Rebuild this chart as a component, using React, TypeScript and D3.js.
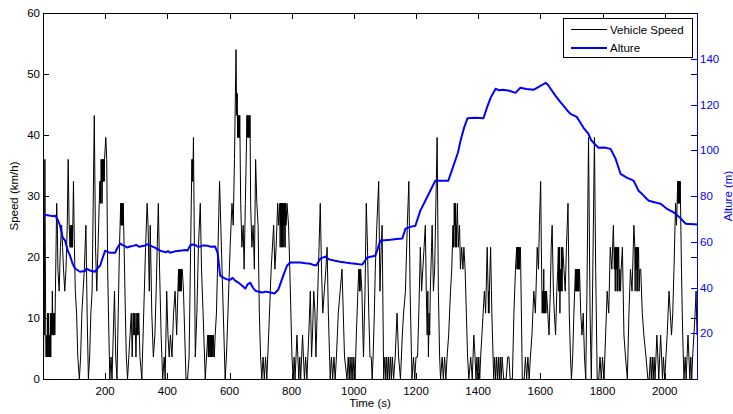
import React from 'react';
import * as d3 from 'd3';

// Vehicle speed (km/h): [time s, speed]
const speedPoints: [number, number][] = [
  [0,3.6],[1,7.2],[2,3.6],[3,14.4],[4,7.2],[6,36],[8,14.4],[9,7.2],[10,3.6],[11,7.2],[12,3.6],[13,7.2],[14,3.6],[15,10.8],[16,3.6],[17,7.2],[18,10.8],[19,3.6],[20,7.2],[21,3.6],[22,7.2],[23,3.6],[24,10.8],[25,3.6],[26,10.8],[27,7.2],[28,10.8],[29,7.2],[30,14.4],[31,10.8],[32,7.2],[33,10.8],[34,7.2],[35,10.8],[36,7.2],[37,10.8],[38,7.2],[40,14.4],[44,28.8],[46,25.2],[48,18],[52,14.4],[56,21.6],[60,25.2],[63,21.6],[66,18],[70,14.4],[74,18],[78,25.2],[81,36],[84,25.2],[87,21.6],[88,25.2],[89,21.6],[90,25.2],[91,21.6],[92,25.2],[93,21.6],[94,25.2],[95,21.6],[98,32.4],[101,21.6],[104,14.4],[108,10.8],[112,3.6],[117,0],
  [121,3.6],[125,10.8],[129,14.4],[133,18],[138,25.2],[142,10.8],[146,0],[150,3.6],[154,10.8],[158,14.4],[165,43.2],[169,21.6],[173,14.4],[177,21.6],[181,28.8],[183,32.4],[184,28.8],[185,32.4],[186,28.8],[187,36],[188,32.4],[189,36],[190,28.8],[191,32.4],[192,36],[193,32.4],[194,36],[195,32.4],[196,36],[197,32.4],[198,36],[202,39.6],[205,36],[208,18],[212,7.2],[215,0],
  [219,3.6],[222,0],[226,7.2],[230,14.4],[234,3.6],[238,0],[242,10.8],[246,21.6],[250,28.8],[251,25.2],[252,28.8],[253,25.2],[254,28.8],[255,25.2],[256,28.8],[257,25.2],[258,28.8],[261,21.6],[265,10.8],[268,3.6],[272,0],[276,3.6],[280,7.2],[284,10.8],[287,3.6],[290,10.8],[292,7.2],[293,10.8],[294,7.2],[296,10.8],[299,3.6],[302,10.8],[304,7.2],[305,10.8],[306,7.2],[308,10.8],[312,3.6],[318,0],[324,10.8],[330,21.6],[335,28.8],[338,25.2],[342,14.4],
  [345,25.2],[350,10.8],[355,3.6],[360,7.2],[364,14.4],[371,28.8],[375,18],[380,7.2],[385,0],[390,3.6],[393,0],[398,14.4],[402,7.2],[406,3.6],[410,7.2],[415,3.6],[420,10.8],[425,14.4],[430,7.2],[434,14.4],[436,18],[437,14.4],[438,18],[439,14.4],[440,18],[441,14.4],[442,18],[443,14.4],[444,18],[445,14.4],[446,18],[448,18],[452,14.4],[456,7.2],[460,0],
  [465,0],[470,3.6],[474,18],[478,32.4],[479,36],[480,32.4],[481,36],[482,32.4],[484,39.6],[487,21.6],[490,3.6],[495,10.8],[500,21.6],[506,28.8],[510,18],[515,10.8],[522,0],[526,3.6],[530,7.2],[532,3.6],[533,7.2],[534,3.6],[536,7.2],[538,3.6],[539,7.2],[541,3.6],[542,7.2],[544,3.6],[545,7.2],[547,3.6],[548,7.2],[551,3.6],[554,7.2],[558,10.8],[563,21.6],[568,32.4],[572,25.2],[576,18],[582,7.2],[586,0],[590,3.6],[595,10.8],[602,21.6],[608,28.8],[612,25.2],[616,36],[621,54],[623,43.2],[625,46.8],[626,39.6],[627,43.2],[628,39.6],[629,43.2],[630,39.6],[631,43.2],[632,39.6],[633,43.2],[636,28.8],[640,21.6],[644,25.2],[647,18],[651,28.8],[655,39.6],[656,43.2],[657,39.6],[658,43.2],[659,39.6],[660,43.2],[661,39.6],[662,43.2],[663,39.6],[664,43.2],[665,39.6],[666,43.2],[668,28.8],[672,21.6],[676,25.2],[680,18],[684,36],[688,28.8],[692,25.2],[696,10.8],[700,3.6],
  [704,0],[708,3.6],[712,0],[716,3.6],[720,0],[726,7.2],[734,18],[742,25.2],[746,18],[750,21.6],[755,28.8],[758,25.2],[762,28.8],[763,21.6],[764,28.8],[765,25.2],[766,28.8],[767,21.6],[768,28.8],[769,25.2],[770,28.8],[771,21.6],[772,28.8],[773,25.2],[774,28.8],[775,21.6],[776,28.8],[777,25.2],[778,28.8],[779,21.6],[780,28.8],[782,25.2],[785,28.8],[790,25.2],[794,18],[801,3.6],
  [805,0],[808,3.6],[811,0],[814,3.6],[817,7.2],[820,3.6],[823,0],[826,3.6],[829,0],[832,3.6],[835,7.2],[838,3.6],[841,0],[845,3.6],[849,0],[855,7.2],[860,14.4],[864,3.6],[867,7.2],[871,14.4],[875,10.8],[878,3.6],[884,14.4],[888,21.6],[892,28.8],[896,18],[900,10.8],[905,14.4],[910,18],[914,21.6],[918,10.8],[924,0],[928,3.6],[932,0],[936,3.6],[940,0],[944,3.6],[950,10.8],[956,14.4],[962,18],[966,10.8],[970,3.6],[978,0],[982,3.6],[985,0],[988,3.6],[991,0],[994,3.6],[997,0],[1000,3.6],[1004,0],[1008,7.2],[1013,14.4],[1016,18],[1018,14.4],[1019,18],[1020,14.4],[1022,18],[1026,14.4],[1031,3.6],[1036,14.4],[1040,28.8],[1044,21.6],[1048,10.8],[1052,3.6],
  [1056,3.6],[1059,0],[1062,3.6],[1066,10.8],[1069,18],[1074,25.2],[1080,32.4],[1084,14.4],[1088,21.6],[1091,25.2],[1096,0],[1100,3.6],[1103,0],[1106,3.6],[1109,0],[1112,3.6],[1115,0],[1118,3.6],[1121,0],[1124,3.6],[1128,0],[1133,3.6],[1139,10.8],[1144,3.6],[1150,0],[1156,7.2],[1160,10.8],[1166,14.4],[1172,25.2],[1177,32.4],[1181,14.4],[1187,0],[1192,3.6],[1196,0],[1200,3.6],
  [1205,3.6],[1209,10.8],[1214,21.6],[1218,14.4],[1222,18],[1226,21.6],[1230,25.2],[1233,14.4],[1236,7.2],[1238,14.4],[1240,3.6],[1242,10.8],[1244,7.2],[1246,14.4],[1250,21.6],[1252,25.2],[1256,14.4],[1260,18],[1264,28.8],[1268,39.6],[1272,14.4],[1276,3.6],[1279,0],[1284,3.6],[1288,0],[1292,3.6],[1296,0],[1300,3.6],
  [1305,7.2],[1311,14.4],[1315,18],[1319,25.2],[1320,21.6],[1321,25.2],[1322,21.6],[1323,28.8],[1324,25.2],[1325,28.8],[1326,25.2],[1327,28.8],[1328,21.6],[1329,25.2],[1330,21.6],[1331,25.2],[1333,28.8],[1336,21.6],[1340,25.2],[1343,18],[1347,21.6],[1351,18],[1354,21.6],[1358,18],[1362,10.8],[1366,3.6],[1370,0],[1376,3.6],[1381,0],[1386,7.2],[1390,3.6],[1393,0],[1396,3.6],[1399,0],[1402,3.6],[1405,0],[1408,3.6],
  [1412,7.2],[1416,10.8],[1420,14.4],[1424,10.8],[1429,21.6],[1432,14.4],[1433,10.8],[1434,14.4],[1435,10.8],[1436,14.4],[1440,21.6],[1444,10.8],[1450,0],[1453,3.6],[1456,0],[1459,3.6],[1462,0],[1465,3.6],[1468,0],[1471,3.6],[1474,0],[1477,3.6],[1482,0],[1490,0],[1495,3.6],[1499,3.6],[1503,0],[1510,0],[1515,10.8],[1520,18],[1524,21.6],[1525,18],[1526,21.6],[1527,18],[1528,21.6],[1529,18],[1530,21.6],[1531,18],[1532,21.6],[1533,18],[1534,21.6],[1536,21.6],[1540,7.2],[1542,0],[1548,0],[1552,3.6],[1556,0],[1560,3.6],
  [1564,0],[1568,3.6],[1573,7.2],[1579,14.4],[1584,10.8],[1590,21.6],[1594,18],[1597,25.2],[1601,32.4],[1604,18],[1606,10.8],[1607,14.4],[1608,10.8],[1609,14.4],[1610,10.8],[1611,18],[1612,10.8],[1613,14.4],[1614,10.8],[1615,14.4],[1616,10.8],[1617,14.4],[1618,10.8],[1620,14.4],[1624,10.8],[1628,7.2],[1632,14.4],[1635,21.6],[1638,25.2],[1642,14.4],[1645,10.8],[1649,7.2],[1653,14.4],[1656,18],[1658,21.6],[1659,14.4],[1660,21.6],[1661,14.4],[1662,21.6],[1663,10.8],[1664,18],[1665,14.4],[1666,18],[1667,14.4],[1668,21.6],[1670,14.4],[1672,21.6],[1676,18],[1680,14.4],[1684,21.6],[1689,28.8],[1693,10.8],[1697,3.6],[1700,0],
  [1704,3.6],[1708,10.8],[1713,18],[1714,14.4],[1715,18],[1716,14.4],[1717,18],[1718,14.4],[1719,18],[1720,14.4],[1721,18],[1722,14.4],[1723,18],[1724,14.4],[1726,18],[1730,10.8],[1734,7.2],[1738,10.8],[1742,3.6],[1746,0],[1750,14.4],[1755,39.6],[1760,10.8],[1764,0],[1768,14.4],[1774,39.6],[1778,18],[1783,0],[1788,0],[1792,3.6],[1796,0],[1800,3.6],
  [1805,0],[1810,7.2],[1815,14.4],[1820,10.8],[1825,21.6],[1830,18],[1835,25.2],[1838,18],[1840,21.6],[1841,14.4],[1842,21.6],[1843,18],[1844,21.6],[1845,18],[1846,21.6],[1847,14.4],[1848,21.6],[1849,14.4],[1850,18],[1852,21.6],[1854,14.4],[1856,18],[1858,14.4],[1860,18],[1864,21.6],[1869,7.2],[1874,3.6],[1880,0],[1885,10.8],[1890,18],[1895,14.4],[1901,25.2],[1904,21.6],[1905,14.4],[1906,21.6],[1907,18],[1908,21.6],[1909,18],[1910,21.6],[1911,14.4],[1912,21.6],[1913,14.4],[1914,18],[1916,21.6],[1918,14.4],[1920,18],[1923,18],[1928,10.8],[1933,7.2],[1940,3.6],[1946,0],[1950,0],
  [1954,3.6],[1957,0],[1960,3.6],[1963,0],[1966,3.6],[1969,0],[1972,3.6],[1975,7.2],[1978,3.6],[1981,0],[1984,3.6],[1987,7.2],[1990,3.6],[1993,0],[1996,3.6],[2000,0],[2004,3.6],[2008,7.2],[2014,14.4],[2018,10.8],[2022,7.2],[2026,10.8],[2030,18],[2035,28.8],[2038,25.2],[2042,32.4],[2043,28.8],[2044,32.4],[2045,28.8],[2046,32.4],[2047,28.8],[2048,32.4],[2049,28.8],[2050,32.4],[2054,18],[2058,7.2],[2062,0],[2066,3.6],[2069,0],[2072,3.6],[2075,7.2],[2078,3.6],[2081,0],[2084,3.6],[2087,0],[2090,3.6],[2094,7.2],[2098,10.8],[2101,14.4],[2104,7.2]
];

// Altitude (m): [time s, altitude]
const altPoints: [number, number][] = [
  [0,71.8],[15,71.6],[30,71.2],[39,71.4],[48,69.5],[55,67],[63,62],[71,60.5],[80,56],[87,53.9],[95,50.5],[103,48.3],[119,46.9],[135,47.2],[140,48.3],[143,48],[151,47.4],[167,46.9],[176,48.5],[184,49.6],[192,53],[200,56.1],[208,55.6],[216,55.2],[232,55.2],[240,57.5],[248,59.2],[255,58.6],[262,58.2],[270,57.5],[280,57.9],[290,58.2],[300,58.6],[310,57.8],[320,58.1],[330,58.4],[335,58.9],[345,58.3],[360,57.4],[377,56.1],[385,55.8],[395,55.4],[402,55.9],[409,55.2],[425,55.8],[441,56.1],[458,56.4],[465,56.1],[473,58.3],[480,58.8],[490,58.6],[498,57.8],[506,57.9],[515,58.4],[530,58.2],[540,57.8],[554,57.9],[562,55],[570,45.2],[578,44.5],[586,43.9],[600,43.2],[610,44.2],[618,43],[630,42],[641,40.8],[651,39.5],[659,41.5],[667,42.1],[675,40],[683,38.6],[695,38.1],[705,37.8],[718,38.2],[731,37.8],[745,37.4],[757,39.1],[773,45.2],[785,49.5],[795,50.9],[810,50.9],[828,50.9],[845,50.6],[860,50.4],[872,49.8],[879,49.6],[892,52.6],[908,53.5],[920,52.3],[940,51.7],[955,51.3],[973,50.9],[990,50.6],[1005,50.4],[1027,50],[1043,53.1],[1069,53.9],[1077,57],[1085,60.5],[1100,60.7],[1118,60.9],[1138,61.2],[1156,61.4],[1166,65.7],[1182,66.5],[1198,67],[1214,73.6],[1230,77.9],[1246,82.3],[1262,86.7],[1283,86.7],[1304,86.7],[1320,93],[1335,99],[1343,104],[1355,110],[1366,114],[1390,114.2],[1417,114],[1428,118.5],[1440,122.9],[1456,126.9],[1468,126.2],[1481,126.4],[1500,126],[1520,125.1],[1536,127.3],[1555,126.8],[1578,126.4],[1592,127.5],[1601,128.2],[1617,129.5],[1625,128.5],[1633,126.9],[1649,123.8],[1662,121.5],[1675,119.4],[1686,117.5],[1697,115.9],[1717,114.6],[1728,112.2],[1739,109.8],[1755,107.2],[1763,104.5],[1771,103.3],[1787,101.1],[1805,101.2],[1826,100.6],[1842,96.3],[1850,93],[1858,89.7],[1878,88],[1900,86.7],[1916,82.3],[1930,80.5],[1942,78.8],[1949,77.9],[1970,77.2],[1987,76.6],[2006,74.5],[2020,73.5],[2035,72.3],[2052,70.1],[2068,67.9],[2080,67.8],[2095,67.6],[2104,67.5]
];

const timeTicks = [200, 400, 600, 800, 1000, 1200, 1400, 1600, 1800, 2000];
const speedTicks = [0, 10, 20, 30, 40, 50, 60];
const altTicks = [20, 40, 60, 80, 100, 120, 140];

export default function App() {
  const W = 733, H = 414;
  const L = 43, R = 697, T = 13, B = 379;
  const x = d3.scaleLinear().domain([0, 2104]).range([L, R]);
  const yS = d3.scaleLinear().domain([0, 60]).range([B, T]);
  const yA = d3.scaleLinear().domain([0, 160]).range([B, T]);
  const speedLine = d3.line<[number, number]>().x(d => x(d[0])).y(d => yS(d[1]));
  const altLine = d3.line<[number, number]>().x(d => x(d[0])).y(d => yA(d[1]));
  const font = '"Liberation Sans", Arial, sans-serif';
  const fs = 11.5;
  const tl = 6;
  const blue = '#0000ff';

  return (
    <div style={{ position: 'absolute', left: 0, top: 0 }}>
      <svg width={W} height={H} style={{ display: 'block', background: '#fff' }} fontFamily={font} fontSize={fs}>
        <rect x={0} y={0} width={W} height={H} fill="#fff" />
        <defs>
          <clipPath id="plot"><rect x={L} y={T} width={R - L} height={B - T} /></clipPath>
        </defs>
        <g clipPath="url(#plot)">
          <path d={speedLine(speedPoints) || ''} fill="none" stroke="#000" strokeWidth={1} strokeLinejoin="miter" />
          <path d={altLine(altPoints) || ''} fill="none" stroke={blue} strokeWidth={2} strokeLinejoin="round" />
        </g>
        {/* spines */}
        <line x1={L} x2={R} y1={T + 0.5} y2={T + 0.5} stroke="#000" strokeWidth={1} />
        <line x1={L} x2={R} y1={B + 0.5} y2={B + 0.5} stroke="#000" strokeWidth={1} />
        <line x1={L + 0.5} x2={L + 0.5} y1={T} y2={B + 1} stroke="#000" strokeWidth={1} />
        <line x1={R + 0.5} x2={R + 0.5} y1={T} y2={B + 1} stroke={blue} strokeWidth={1} />
        {/* x ticks */}
        {timeTicks.map(t => (
          <g key={'xt' + t}>
            <line x1={Math.round(x(t)) + 0.5} x2={Math.round(x(t)) + 0.5} y1={B} y2={B - tl} stroke="#000" />
            <line x1={Math.round(x(t)) + 0.5} x2={Math.round(x(t)) + 0.5} y1={T} y2={T + tl} stroke="#000" />
            <text x={x(t)} y={395} textAnchor="middle" fill="#000">{t}</text>
          </g>
        ))}
        {/* left ticks */}
        {speedTicks.map(v => (
          <g key={'ys' + v}>
            <line x1={L} x2={L + tl} y1={Math.round(yS(v)) + 0.5} y2={Math.round(yS(v)) + 0.5} stroke="#000" />
            <line x1={R} x2={R - tl} y1={Math.round(yS(v)) + 0.5} y2={Math.round(yS(v)) + 0.5} stroke="#000" />
            <text x={L - 3} y={yS(v) + 4} textAnchor="end" fill="#000">{v}</text>
          </g>
        ))}
        {/* right ticks */}
        {altTicks.map(v => (
          <g key={'ya' + v}>
            <line x1={R} x2={R - tl} y1={Math.round(yA(v)) + 0.5} y2={Math.round(yA(v)) + 0.5} stroke={blue} />
            <text x={R + 3} y={yA(v) + 4} textAnchor="start" fill={blue}>{v}</text>
          </g>
        ))}
        {/* axis labels */}
        <text x={(L + R) / 2} y={407} textAnchor="middle" fill="#000">Time (s)</text>
        <text transform={`translate(18,${(T + B) / 2}) rotate(-90)`} textAnchor="middle" fill="#000">Speed (km/h)</text>
        <text transform={`translate(732,${(T + B) / 2}) rotate(-90)`} textAnchor="middle" fill={blue}>Alture (m)</text>
        {/* legend */}
        <rect x={563.5} y={18.5} width={129} height={39} fill="#fff" stroke="#000" strokeWidth={1} />
        <line x1={571} x2={607} y1={29.5} y2={29.5} stroke="#000" strokeWidth={1} />
        <text x={610} y={33.5} fill="#000">Vehicle Speed</text>
        <line x1={571} x2={607} y1={48} y2={48} stroke={blue} strokeWidth={2} />
        <text x={610} y={52} fill="#000">Alture</text>
      </svg>
    </div>
  );
}
